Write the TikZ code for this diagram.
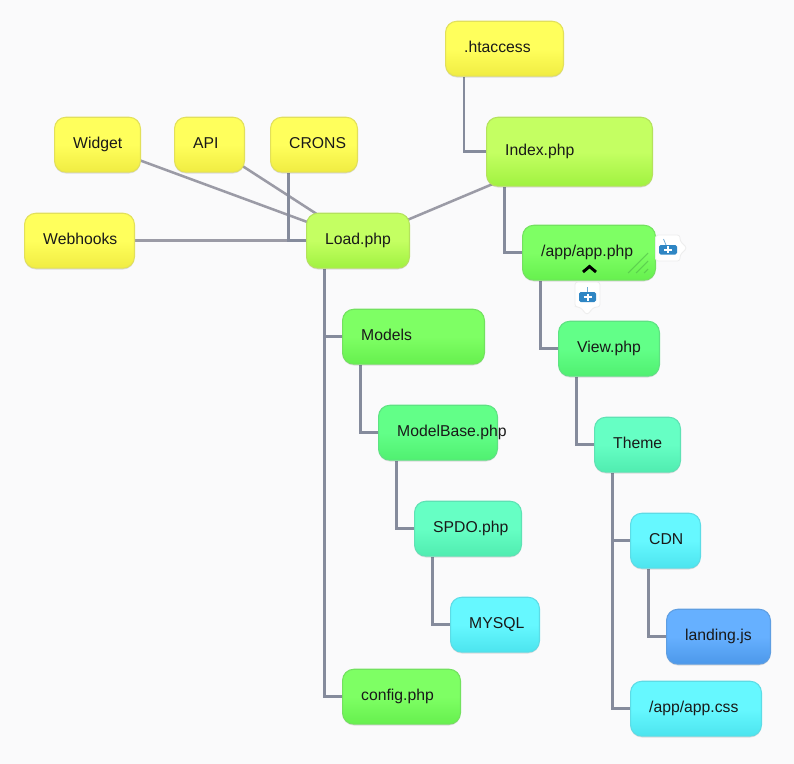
\documentclass[tikz,border=0pt]{standalone}
\usepackage{fontspec}
\setmainfont{Liberation Sans}
\usetikzlibrary{backgrounds,shadows,calc}
\definecolor{pagebg}{HTML}{FAFAFB}
\definecolor{elbowline}{HTML}{858B9C}
\definecolor{straightline}{HTML}{9B9BA6}
\definecolor{iconblue}{HTML}{2F86C4}
\definecolor{yelB}{HTML}{F0EC42}\definecolor{yelT}{HTML}{FFFF5C}\definecolor{yelD}{HTML}{E2E05A}
\definecolor{limeB}{HTML}{A0F240}\definecolor{limeT}{HTML}{C4FF62}\definecolor{limeD}{HTML}{B4E25C}
\definecolor{grnB}{HTML}{66F04E}\definecolor{grnT}{HTML}{7EFF64}\definecolor{grnD}{HTML}{72E25E}
\definecolor{jadeB}{HTML}{50F070}\definecolor{jadeT}{HTML}{62FF88}\definecolor{jadeD}{HTML}{5EE282}
\definecolor{mintB}{HTML}{50ECB0}\definecolor{mintT}{HTML}{66FFC4}\definecolor{mintD}{HTML}{5EE2B4}
\definecolor{aquaB}{HTML}{4CE4EE}\definecolor{aquaT}{HTML}{66F8FF}\definecolor{aquaD}{HTML}{5CDCE6}
\definecolor{bluB}{HTML}{4C98EA}\definecolor{bluT}{HTML}{66B0FF}\definecolor{bluD}{HTML}{5E9EE2}
\definecolor{hatchgreen}{HTML}{4FB848}
\tikzset{
  x=0.75pt,y=-0.75pt,
  cardbox/.style={rectangle,rounded corners=8.5pt,line width=0.8pt,anchor=north west,inner ysep=0pt,inner xsep=14pt,align=left,
    font=\fontsize{11.8}{13}\selectfont,text=black!90,
    drop shadow={shadow xshift=0pt,shadow yshift=-1pt,opacity=0.12,fill=black}},
  grad/.style={draw=#1D,top color=#1T,bottom color=#1B,middle color=#1T},
  yel/.style={grad=yel},
  lime/.style={grad=lime},
  grn/.style={grad=grn},
  jade/.style={grad=jade},
  mint/.style={grad=mint},
  aqua/.style={grad=aqua},
  blu/.style={grad=blu},
  elbow/.style={draw=elbowline,line width=2.1pt},
  straight/.style={draw=straightline,line width=1.9pt},
  callout/.style={fill=white,draw=black!7,line width=0.6pt,rounded corners=2pt},
  iconbox/.style={fill=iconblue,rounded corners=1.2pt},
  iconmark/.style={draw=white,line width=1.5pt},
  antenna/.style={draw=iconblue!70,line width=0.6pt},
  hatch/.style={draw=hatchgreen,line width=0.8pt,opacity=0.6}
}
\newcommand{\card}[7]{%
  \pgfmathsetmacro\cardW{(#4-#2)*0.75-28.8}%
  \pgfmathsetmacro\cardH{(#5-#3)*0.75-0.8}%
  \node[cardbox,#7,text width=\cardW pt,minimum height=\cardH pt] (#1) at (#2,#3-0.3) {\raisebox{2.2pt}{\mbox{#6}}};%
}
\begin{document}
\begin{tikzpicture}
\useasboundingbox (0,0) rectangle (794,764);
\card{htaccess}{445}{21}{564}{77}{.htaccess}{yel}
\card{index}{486}{117}{653}{187}{Index.php}{lime}
\card{widget}{54}{117}{141}{173}{Widget}{yel}
\card{api}{174}{117}{245}{173}{API}{yel}
\card{crons}{270}{117}{358}{173}{CRONS}{yel}
\card{webhooks}{24}{213}{135}{269}{Webhooks}{yel}
\card{load}{306}{213}{410}{269}{Load.php}{lime}
\card{app}{522}{225}{656}{281}{/app/app.php}{grn}
\card{models}{342}{309}{485}{365}{Models}{grn}
\card{view}{558}{321}{660}{377}{View.php}{jade}
\card{modelbase}{378}{405}{498}{461}{ModelBase.php}{jade}
\card{theme}{594}{417}{681}{473}{Theme}{mint}
\card{spdo}{414}{501}{522}{557}{SPDO.php}{mint}
\card{cdn}{630}{513}{701}{569}{CDN}{aqua}
\card{mysql}{450}{597}{540}{653}{MYSQL}{aqua}
\card{landing}{666}{609}{771}{665}{landing.js}{blu}
\card{config}{342}{669}{461}{725}{config.php}{grn}
\card{css}{630}{681}{762}{737}{/app/app.css}{aqua}
\begin{pgfonlayer}{background}
  \fill[pagebg] (0,0) rectangle (794,764);
  \draw[straight] (widget.center) -- (load.center);
  \draw[straight] (api.center) -- (load.center);
  \draw[straight] (webhooks.center) -- (load.center);
  \draw[straight] (index.center) -- (load.center);
  \draw[elbow] ([xshift=13.8pt]crons.south west) |- (load.west);
  \draw[elbow] ([xshift=14.3pt]htaccess.south west) |- (index.west);
  \draw[elbow] ([xshift=13.8pt]index.south west) |- (app.west);
  \draw[elbow] ([xshift=13.8pt]app.south west) |- (view.west);
  \draw[elbow] ([xshift=13.8pt]view.south west) |- (theme.west);
  \draw[elbow] ([xshift=13.8pt]theme.south west) |- (cdn.west);
  \draw[elbow] ([xshift=13.8pt]theme.south west) |- (css.west);
  \draw[elbow] ([xshift=13.8pt]cdn.south west) |- (landing.west);
  \draw[elbow] ([xshift=13.8pt]load.south west) |- (models.west);
  \draw[elbow] ([xshift=13.8pt]load.south west) |- (config.west);
  \draw[elbow] ([xshift=13.8pt]models.south west) |- (modelbase.west);
  \draw[elbow] ([xshift=13.8pt]modelbase.south west) |- (spdo.west);
  \draw[elbow] ([xshift=13.8pt]spdo.south west) |- (mysql.west);
\end{pgfonlayer}
% collapse chevron and resize hatch on /app/app.php
\draw[line width=2.2pt,black,line join=miter] (583,272) -- (589.5,266.5) -- (596,272);
\draw[hatch] (628,273) -- (648,253);
\draw[hatch] (636,273) -- (648,261);
\draw[hatch] (644,273) -- (648,269);
% note callouts
\path[callout] (655.5,235) -- (680,235) -- (680,241) -- (687,248) -- (680,255) -- (680,261) -- (655.5,261) -- cycle;
\path[iconbox] (659,245) rectangle (677,254.5);
\draw[antenna] (663.5,239) -- (666,245);
\draw[iconmark] (664,249.7) -- (672,249.7) (668,246.2) -- (668,253.2);
\path[callout] (575,282) -- (600,282) -- (600,307) -- (594,307) -- (587,315) -- (580,307) -- (575,307) -- cycle;
\path[iconbox] (579,292) rectangle (596,302);
\draw[antenna] (587.5,287) -- (587.5,292);
\draw[iconmark] (583.5,297) -- (591.5,297) (587.5,293.5) -- (587.5,300.5);
\end{tikzpicture}
\end{document}
